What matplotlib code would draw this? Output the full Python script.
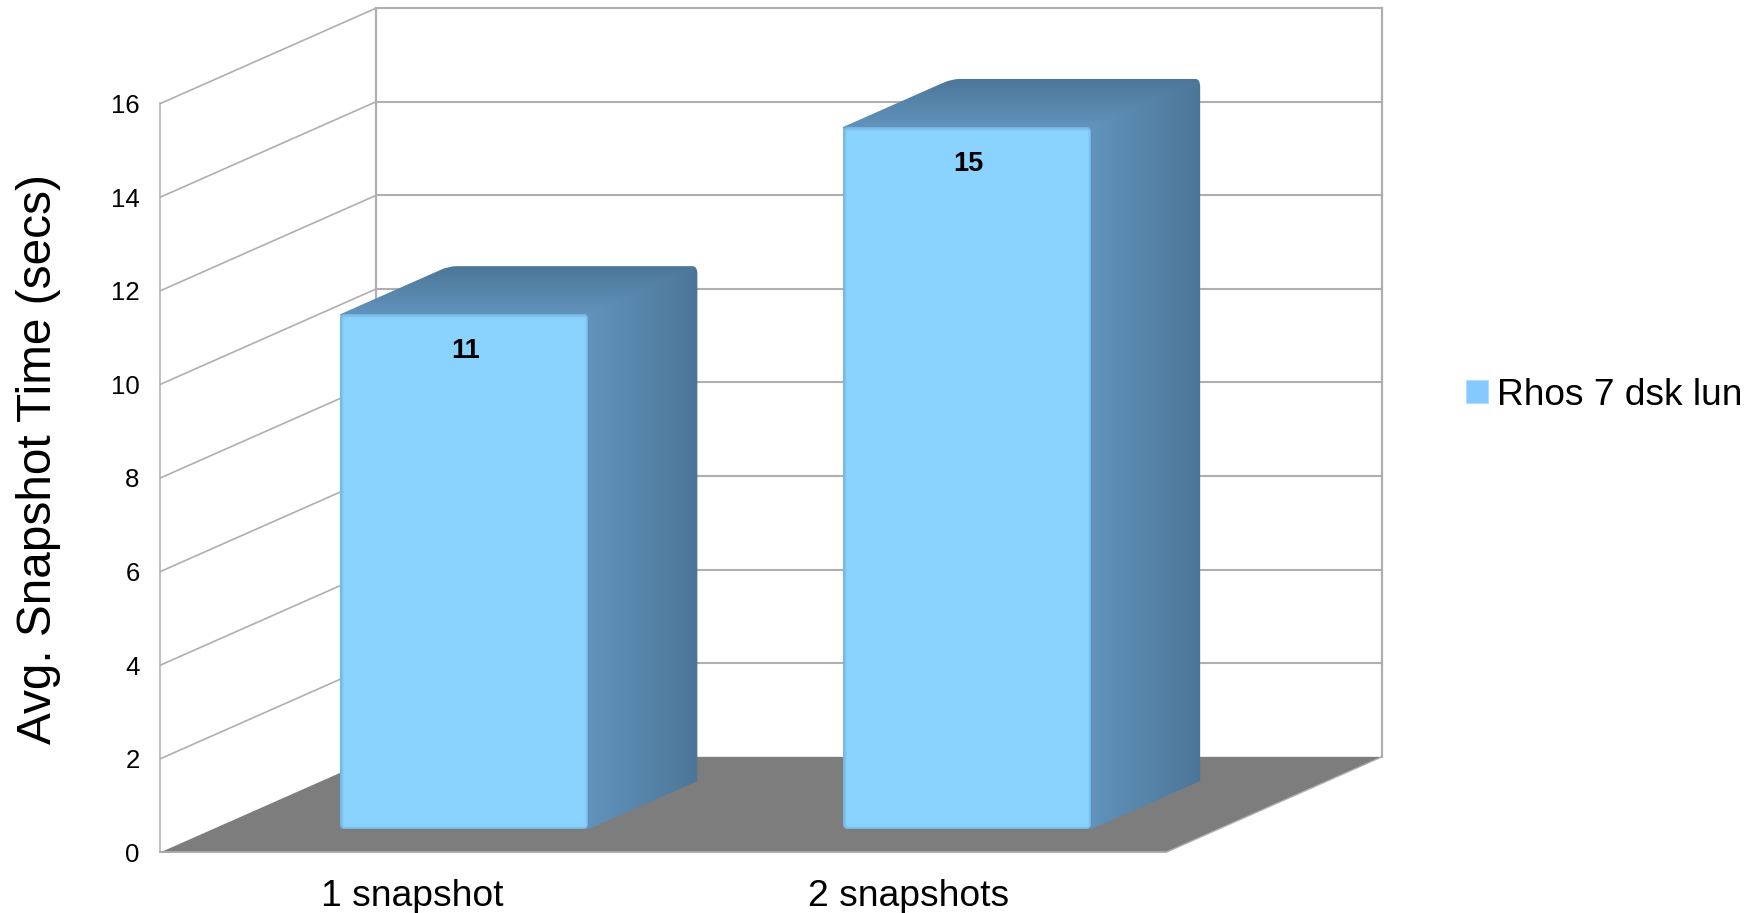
import numpy as np
import matplotlib
matplotlib.use('Agg')
import matplotlib.pyplot as plt
from matplotlib.patches import Patch, PathPatch, Polygon
from matplotlib.path import Path
from matplotlib.colors import to_rgb

plt.rcParams['font.family'] = ['Liberation Sans', 'DejaVu Sans']

categories = ['1 snapshot', '2 snapshots']
snapshot_time = [11, 15]
series_name = 'Rhos 7 dsk lun'
y_ticks = [0, 2, 4, 6, 8, 10, 12, 14, 16]

# oblique projection of the chart box: how far the back wall is shifted
DEPTH_X = 0.4294
DEPTH_Y = 2.04
BAR_WIDTH = 0.494
BAR_D0 = 0.242
BAR_D1 = 0.747

GRID = '#b1aeae'
FLOOR = '#7d7d7d'
FRONT = '#8ad2ff'
SIDE_LIGHT = np.array(to_rgb('#6193bc'))
SIDE_DARK = np.array(to_rgb('#4c7698'))


def proj(x, depth, v):
    return x + depth * DEPTH_X, v + depth * DEPTH_Y


def draw_bar(ax, centre, value):
    x0, x1 = centre - BAR_WIDTH / 2, centre + BAR_WIDTH / 2
    fl_bot = proj(x0, BAR_D0, 0)
    fr_bot = proj(x1, BAR_D0, 0)
    fl_top = proj(x0, BAR_D0, value)
    fr_top = proj(x1, BAR_D0, value)
    bl_top = proj(x0, BAR_D1, value)
    br_top = proj(x1, BAR_D1, value)
    br_bot = proj(x1, BAR_D1, 0)

    # top and side share one gradient image, split along the diagonal seam
    xs = np.linspace(fl_top[0], br_top[0], 400)
    ys = np.linspace(fr_bot[1], br_top[1], 700)
    X, Y = np.meshgrid(xs, ys)
    u = (X - fr_top[0]) / (br_top[0] - fr_top[0])
    v = (Y - fr_top[1]) / (br_top[1] - fr_top[1])
    t = np.where(v > u, v, u).clip(0, 1)[..., None]
    rgb = SIDE_LIGHT * (1 - t) + SIDE_DARK * t
    im = ax.imshow(rgb, extent=(xs[0], xs[-1], ys[0], ys[-1]), origin='lower',
                   aspect='auto', interpolation='bilinear', zorder=3)

    # rounded corners at the back of the top face
    rx, ry = 0.016, 0.17
    verts = [fl_top,
             (bl_top[0] - rx, bl_top[1] - ry * 0.45), bl_top, (bl_top[0] + rx, bl_top[1]),
             (br_top[0] - rx * 0.6, br_top[1]), br_top, (br_top[0], br_top[1] - ry),
             br_bot, fr_bot, fl_top]
    codes = [Path.MOVETO,
             Path.LINETO, Path.CURVE3, Path.CURVE3,
             Path.LINETO, Path.CURVE3, Path.CURVE3,
             Path.LINETO, Path.LINETO, Path.CLOSEPOLY]
    clip = PathPatch(Path(verts, codes), transform=ax.transData, fc='none', ec='none')
    ax.add_patch(clip)
    im.set_clip_path(clip)

    # front face with a soft darker rim
    inset_x, inset_y = 0.008, 0.086
    face = [(fl_bot[0] + inset_x, fl_bot[1] + inset_y),
            (fr_bot[0] - inset_x, fr_bot[1] + inset_y),
            (fr_top[0] - inset_x, fr_top[1] - inset_y),
            (fl_top[0] + inset_x, fl_top[1] - inset_y)]
    for lw, col in [(5.8, '#74b4e0'), (4.6, '#7abde9'), (3.4, '#80c5f1'), (2.2, '#86ccf9'), (1.0, FRONT)]:
        ax.add_patch(Polygon(face, closed=True, fc=FRONT, ec=col, lw=lw,
                             joinstyle='round', zorder=4))

    ax.text((fl_top[0] + fr_top[0]) / 2 + 0.002, fl_top[1] - 0.78, str(value), ha='center', va='center',
            fontsize=19.5, fontweight='bold', color='black', zorder=5)


fig = plt.figure(figsize=(17.65, 9.13), dpi=100)
ax = fig.add_axes([160.5 / 1765, (913 - 852.3) / 913, (1382 - 160.5) / 1765, (852.3 - 8) / 913])
x_max = len(categories) + DEPTH_X
y_max = y_ticks[-1] + DEPTH_Y

# walls
for v in y_ticks[1:]:
    ax.plot([0, DEPTH_X], [v, v + DEPTH_Y], color=GRID, lw=1.2, zorder=1, clip_on=False)
    ax.plot([DEPTH_X, x_max], [v + DEPTH_Y, v + DEPTH_Y], color=GRID, lw=1.5, zorder=1, clip_on=False)
ax.plot([DEPTH_X, DEPTH_X], [DEPTH_Y, y_max], color=GRID, lw=1.6, zorder=1, clip_on=False)
ax.plot([x_max, x_max], [DEPTH_Y, y_max], color=GRID, lw=1.6, zorder=1, clip_on=False)

# floor
ax.add_patch(Polygon([(0, 0), (DEPTH_X, DEPTH_Y), (x_max, DEPTH_Y), (len(categories), 0)],
                     closed=True, fc=FLOOR, ec='none', zorder=2))
ax.plot([0, len(categories)], [0, 0], color='#a9a9a9', lw=1.4, zorder=2, clip_on=False)
ax.plot([len(categories), x_max], [0, DEPTH_Y], color=GRID, lw=1.0, zorder=2, clip_on=False)

centres = [i + 0.5 for i in range(len(categories))]
for c, val in zip(centres, snapshot_time):
    draw_bar(ax, c, val)

ax.set_xlim(0, x_max)
ax.set_ylim(0, y_max)
ax.patch.set_visible(False)
for name in ['top', 'right', 'bottom']:
    ax.spines[name].set_visible(False)
ax.spines['left'].set_bounds(0, y_ticks[-1])
ax.spines['left'].set_color(GRID)
ax.spines['left'].set_linewidth(1.1)

ax.set_yticks(y_ticks)
ax.set_xticks([0.5, 1.4875])
ax.set_xticklabels(categories)
ax.tick_params(axis='y', length=0, pad=15, labelsize=18.5)
ax.tick_params(axis='x', length=0, pad=19.5, labelsize=26.8)
ax.set_ylabel('Avg. Snapshot Time (secs)', fontsize=34.4)
ax.yaxis.set_label_coords(-0.0815, 0.466)

leg = ax.legend(handles=[Patch(fc='#85c9ff', ec='#a9dcff', lw=0.6, label=series_name)],
                loc='center left', bbox_to_anchor=(1466 / 1765, 1 - 395 / 913),
                bbox_transform=fig.transFigure, frameon=False, fontsize=26.7,
                handlelength=0.58, handleheight=0.58, handletextpad=0.25, borderaxespad=0, borderpad=0)

fig.savefig('out.png', dpi=100)
